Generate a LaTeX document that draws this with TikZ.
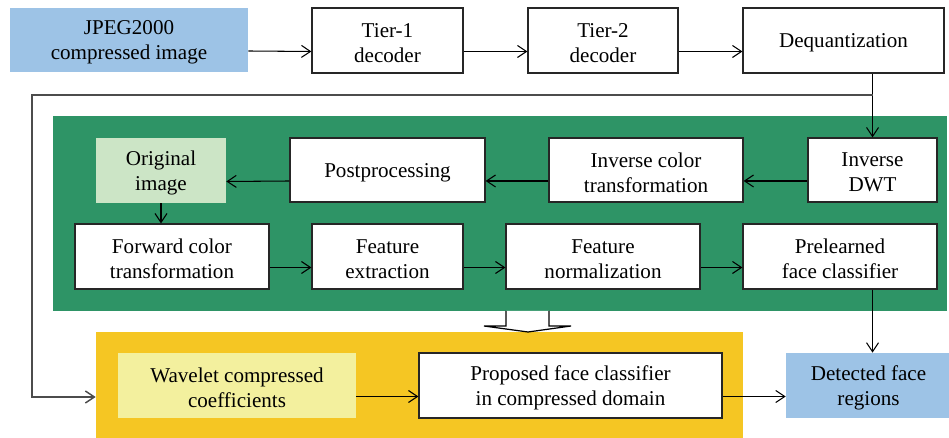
\documentclass[tikz,border=0pt]{standalone}
\usepackage{fontspec}
\setmainfont{Liberation Serif}
\usetikzlibrary{arrows.meta}
\definecolor{inputBlue}{RGB}{157,195,230}
\definecolor{panelGreen}{RGB}{46,148,102}
\definecolor{imageGreen}{RGB}{204,229,198}
\definecolor{panelYellow}{RGB}{245,198,35}
\definecolor{coeffYellow}{RGB}{243,240,158}
\newcommand{\boxFont}{\fontsize{12}{14.2}\selectfont}
\newcommand{\arrowDrop}{-0.22cm}
\tikzstyle{pixelGrid} = [x = 0.02cm, y = -0.02cm]
\tikzstyle{procBox} = [draw=black!85, fill=white, line width=0.7pt, inner sep=0pt]
\tikzstyle{flatBox} = [inner sep=0pt]
\tikzstyle{boxText} = [align=center, inner sep=0pt, font=\boxFont]
\tikzstyle{flowArrow} = [-{Straight Barb[length=1.8mm, width=2.4mm]}, black, line width=0.6pt]
\tikzstyle{feedLine} = [-{Straight Barb[length=1.8mm, width=2.4mm]}, black!70, line width=0.8pt]
\tikzstyle{blockArrow} = [draw=black, fill=white, line width=0.7pt]
% style, name, left, top, right, bottom, text (pixel units)
\newcommand{\blockNode}[7]{
  \pgfmathsetmacro{\boxW}{(#5 - #3) * 0.02}
  \pgfmathsetmacro{\boxH}{(#6 - #4) * 0.02}
  \node [#1, minimum width = \boxW cm, minimum height = \boxH cm] (#2) at ({(#3 + #5) / 2}, {(#4 + #6) / 2}) {};
  \node [boxText] (#2Text) at ([yshift=-0.05cm]#2.center) {#7};
}

\begin{document}
\begin{tikzpicture}[pixelGrid]
  \useasboundingbox (0,0) rectangle (949,438);

  % panels
  \blockNode{flatBox, fill=panelGreen}{greenPanel}{53}{116}{947}{311}{}
  \blockNode{flatBox, fill=panelYellow}{yellowPanel}{96}{332}{743}{440}{}

  % decoder chain
  \blockNode{flatBox, fill=inputBlue}{jpeg}{10}{8}{248}{72}{JPEG2000\\compressed image}
  \blockNode{procBox}{tierOne}{312}{8}{463}{73}{Tier-1\\decoder}
  \blockNode{procBox}{tierTwo}{528}{8}{678}{73}{Tier-2\\decoder}
  \blockNode{procBox}{dequant}{743}{8}{944}{73}{Dequantization}

  % pixel domain
  \blockNode{flatBox, fill=imageGreen}{original}{96}{138}{226}{203}{Original\\image}
  \blockNode{procBox}{postproc}{290}{138}{485}{202}{Postprocessing}
  \blockNode{procBox}{invColor}{549}{138}{743}{202}{Inverse color\\transformation}
  \blockNode{procBox}{dwt}{808}{138}{937}{202}{Inverse\\DWT}
  \blockNode{procBox}{fwdColor}{75}{224}{269}{289}{Forward color\\transformation}
  \blockNode{procBox}{featExtract}{312}{224}{463}{289}{Feature\\extraction}
  \blockNode{procBox}{featNorm}{506}{224}{700}{289}{Feature\\normalization}
  \blockNode{procBox}{prelearned}{743}{224}{937}{289}{Prelearned\\face classifier}

  % compressed domain
  \blockNode{flatBox, fill=coeffYellow}{wavelet}{118}{353}{356}{418}{Wavelet compressed\\coefficients}
  \blockNode{procBox}{proposed}{419}{353}{722}{418}{Proposed face classifier\\in compressed domain}
  \blockNode{flatBox, fill=inputBlue}{detected}{786}{353}{951}{418}{Detected face\\regions}

  \draw [flowArrow] ([yshift=\arrowDrop]jpeg.east) -- ([yshift=\arrowDrop]tierOne.west);
  \draw [flowArrow] ([yshift=\arrowDrop]tierOne.east) -- ([yshift=\arrowDrop]tierTwo.west);
  \draw [flowArrow] ([yshift=\arrowDrop]tierTwo.east) -- ([yshift=\arrowDrop]dequant.west);
  \draw [flowArrow] (dequant.south -| dwt.north) -- (dwt.north);

  \draw [flowArrow] ([yshift=\arrowDrop]dwt.west) -- ([yshift=\arrowDrop]invColor.east);
  \draw [flowArrow] ([yshift=\arrowDrop]invColor.west) -- ([yshift=\arrowDrop]postproc.east);
  \draw [flowArrow] ([yshift=\arrowDrop]postproc.west) -- ([yshift=\arrowDrop]original.east);
  \draw [flowArrow] (original.south) -- (original.south |- fwdColor.north);
  \draw [flowArrow] ([yshift=\arrowDrop]fwdColor.east) -- ([yshift=\arrowDrop]featExtract.west);
  \draw [flowArrow] ([yshift=\arrowDrop]featExtract.east) -- ([yshift=\arrowDrop]featNorm.west);
  \draw [flowArrow] ([yshift=\arrowDrop]featNorm.east) -- ([yshift=\arrowDrop]prelearned.west);
  \draw [flowArrow] (prelearned.south -| dwt.north) -- (detected.north -| dwt.north);

  \draw [flowArrow] ([yshift=\arrowDrop]wavelet.east) -- ([yshift=\arrowDrop]proposed.west);
  \draw [flowArrow] ([yshift=\arrowDrop]proposed.east) -- ([yshift=\arrowDrop]detected.west);

  % bypass to the compressed domain
  \coordinate (railTop) at (32,95);
  \coordinate (branch) at (dwt.north |- railTop);
  \draw [feedLine] (branch) -- (railTop) |- ([yshift=\arrowDrop]yellowPanel.west);

  \draw [blockArrow] (506,311) -- (506,326) -- (484,326) -- (528,332) -- (571,326) -- (549,326) -- (549,311);
\end{tikzpicture}
\end{document}
